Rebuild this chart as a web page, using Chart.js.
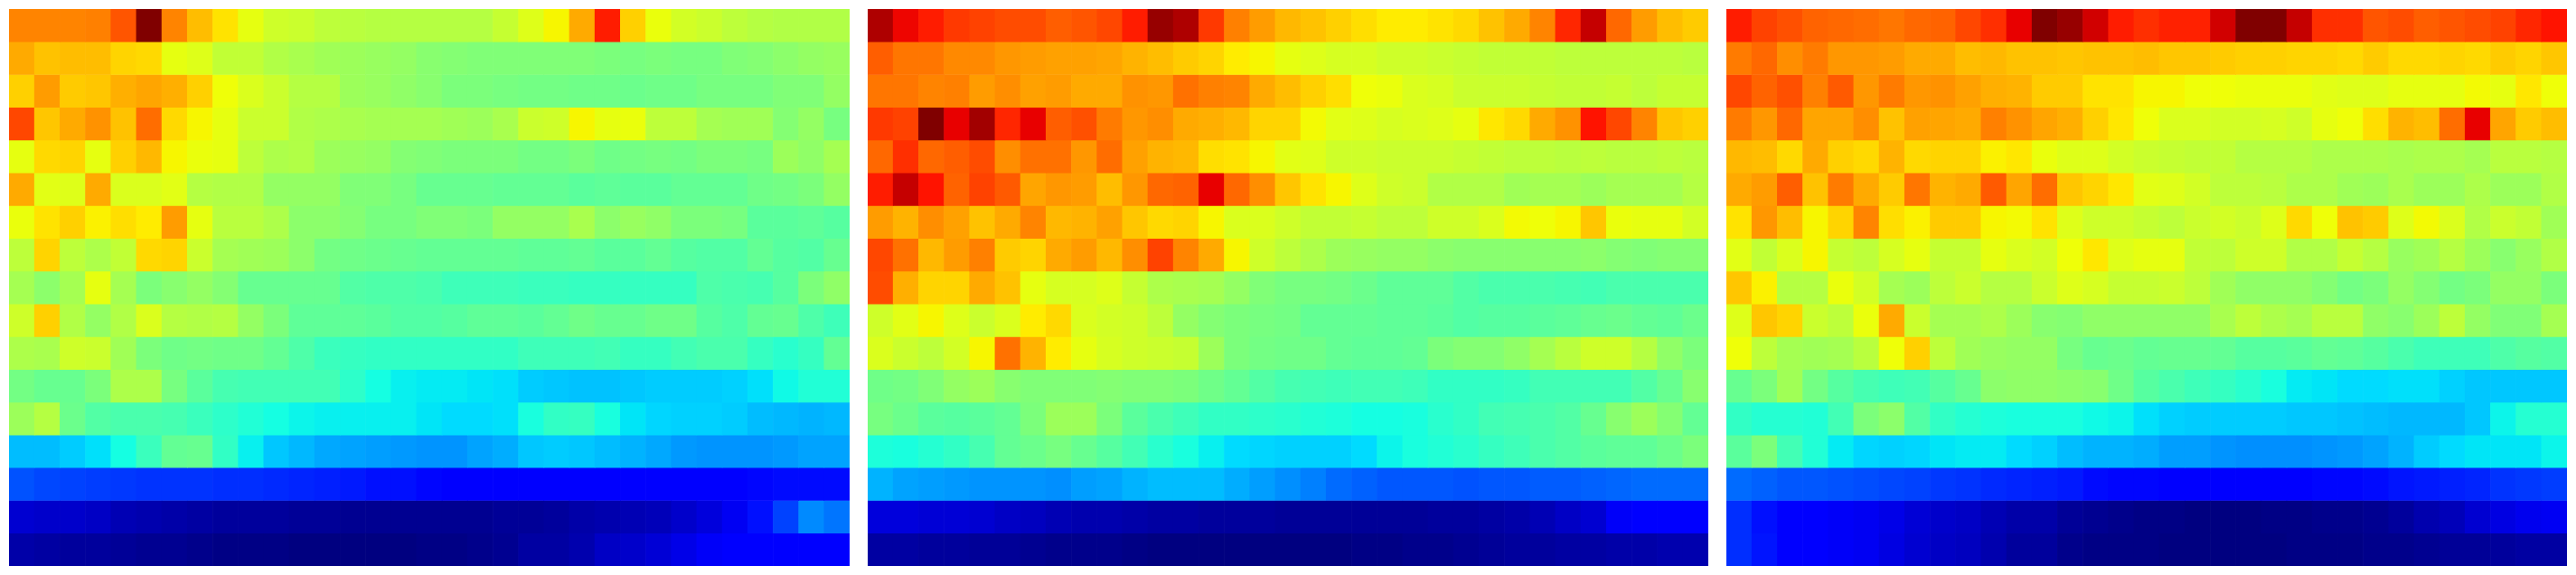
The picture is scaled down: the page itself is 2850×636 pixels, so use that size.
<!DOCTYPE html>
<html>
<head>
<meta charset="utf-8">
<title>Heatmap panels</title>
<script src="https://cdn.jsdelivr.net/npm/chart.js@4/dist/chart.umd.min.js"></script>
<style>
  html, body { margin: 0; padding: 0; background: #fff; }
  canvas { position: absolute; top: 10px; }
  #left { left: 10px; }
  #middle { left: 960px; }
  #right { left: 1910px; }
</style>
</head>
<body>
<canvas id="left" width="930" height="616"></canvas>
<canvas id="middle" width="930" height="616"></canvas>
<canvas id="right" width="930" height="616"></canvas>
<script>
// Cell values, 0-100 on the jet scale, top row first.
const leftRows = [
  [77,77,77,77.5,82,100,77,71,67,63,60,59.5,58,57.5,57,57,57,57,57,59,62,65,73,88,69,63.5,60.5,59.5,58,57,56.5,56.5,56.5],
  [73,70.5,71,71,68.5,68,63,62,58.5,58.5,56.5,55.5,54.5,54,53.5,53,51.5,51,50.5,50.5,50.5,50.5,50.5,50,49.5,50,49.5,49.5,50.5,51,52,53,53.5],
  [69,74.5,69.5,70,72.5,73.5,72.5,69,64,61.5,59.5,57,57,54,53.5,52.5,51.5,50,50,49.5,49,49,48.5,48.5,48,48.5,48.5,49.5,49.5,49.5,50.5,50.5,53],
  [83.5,70,73,75.5,70.5,79.5,68,65,63,59.5,59.5,56.5,56,55.5,55,55,55,54.5,54,55.5,59.5,60,65,63,63.5,58,58,55,54.5,54.5,51,53,49.5],
  [63,68,68.5,63,69,71.5,65,63.5,63,58,56,56.5,54,53.5,53,51,50.5,50,50,50,49,49,50,48.5,49,49.5,49,50,50,49.5,54,52.5,55],
  [73,62.5,62,73,61.5,61.5,62.5,57,56.5,56.5,53,53,53,50.5,50.5,49.5,47.5,47.5,47.5,47,47,47,46,46.5,46,46,47,47,47,48.5,49,50,53],
  [63.5,67,69,65.5,67.5,66,74.5,63,57.5,57.5,56,52,52,51,49.5,49.5,50.5,50.5,50,53,53,53,55.5,52,53.5,52.5,50,50,49.5,46,46,46.5,45.5],
  [58,68.5,58,56,58.5,68,68.5,59.5,55,54.5,54,52,49,48.5,48,47.5,47,47,47,47,46.5,46.5,47,46,46,47,45.5,45,45,47,45.5,45,47.5],
  [55,52,55,63,55,50,51.5,53,51,47.5,47.5,47.5,47.5,45,44.5,44.5,44,42.5,42.5,42.5,42,42,41.5,41.5,41.5,41.5,41.5,44.5,44,43.5,45.5,50,52.5],
  [60,69,56.5,53,56.5,61.5,57,56.5,57,53,50,46.5,46.5,46.5,46,45,45,45.5,46.5,46.5,46,47,48.5,47.5,47.5,48.5,48.5,45.5,44.5,47,47.5,44.5,42.5],
  [56,55.5,60,59.5,54.5,50,48.5,49,48.5,48.5,47,44.5,42,41.5,41,41,41,41,41,41,42.5,42.5,42.5,43,41.5,41.5,43,44,44,41.5,40,41.5,47],
  [49,47.5,47.5,50,56,56,49.5,46,43.5,43,43,43,43,40.5,37.5,36,35.5,35.5,35,34.5,32.5,32,31.5,31.5,32,32.5,32.5,32.5,33,34.5,37,39,39],
  [54,57,48,45,44,44,43.5,42,40.5,39,37.5,36.5,36,36,36,36,35,34,34,34.5,38,41,41.5,38,35,33.5,33,33,32.5,31,30.5,30,30.5],
  [31,31,32.5,34.5,37.5,42,47,47.5,41,36,32,30.5,29,28.5,28,27.5,27,27,28.5,29.5,32,32.5,32,31,30,29,27.5,27,27,27,27.5,28.5,28.5],
  [20.5,19.5,19,18.5,18,17.5,17.5,17.5,17,17,16.5,16,15.5,15,14,14,13,12,12,12,12,12,12,12,12,12,12,12,12.5,13,13.5,13.5,13.5],
  [7,6.5,6.5,6,4.5,4,3.5,3,2.5,2.5,2.5,2,2,1.5,1.5,1.5,1.5,1.5,1.5,2,2,2.5,3.5,4,4.5,5,6.5,8,10,14,19,26,24],
  [3.5,3,2.5,2.5,2,1.5,1.5,1,0.5,0.5,0.5,0,0,0,0,0,0.5,0.5,1,1.5,3,3,4,6,6.5,7.5,9,10.5,11,11.5,11,12,12]
];
const middleRows = [
  [96,90.5,88,85,84,83,83,81,82,83.5,88,98,96,85,77.5,74.5,71.5,70.5,69,67.5,66,66,67,68,70.5,73,77,87,94,80,74.5,71,69.5],
  [81,78.5,78.5,76.5,76.5,75,74.5,74,74,73.5,72,71,69.5,68.5,66,65,63,62,61,61,60,60,59.5,59,58.5,58.5,58.5,58,58,58,58,58,57.5],
  [78.5,78.5,77,77.5,74.5,76,74,74.5,73,73,75.5,75,79,77.5,77,73,71,69,67.5,64,63.5,61.5,61,59.5,59.5,59.5,59,58.5,58.5,59,58,59,59],
  [85,84,100,91,97,87,91,81,82.5,78,75,76,73,72.5,71.5,68.5,68.5,64.5,62.5,62,61,61.5,62,63,66.5,68,73,75.5,89,83.5,77,70,69],
  [80,86,80,81,83,76,79,79,75,79.5,74,72,71.5,67.5,67,65,62.5,62,60,60,59.5,59.5,59.5,59,58.5,58,58,57.5,58,57.5,57.5,58,57.5],
  [88,94,89,80.5,84,81.5,73.5,75,74.5,71,75,80,80.5,91,80,76,70,67,65,62,60,59.5,56.5,56.5,56.5,54.5,55,55,54,55,55,55,57],
  [74.5,72,76,74,70.5,73,77,71.5,72,74,70,68,68.5,65,61.5,61.5,60,58.5,58.5,59,58,58,60,60,61.5,64.5,64,65,70,63.5,63,63,60.5],
  [83.5,79,71.5,74.5,77.5,69.5,68.5,73,74.5,71.5,76,84,77,73,65,60,58,56,54,53.5,53,53,52,51.5,51.5,51.5,51.5,51.5,52,51,50.5,51,51],
  [83,72.5,68.5,68.5,73,70.5,63,61,61,62,59,56,55.5,55,53,50.5,49.5,49.5,49,48,46.5,46.5,46.5,45,44,44,44,43.5,43,44,44,44,44],
  [60,62.5,65,62,59.5,61.5,66,68,61.5,60.5,60,58,53,51,50,49.5,49,47,47,47,46.5,46.5,46,45,45.5,45.5,46,46.5,47.5,48,47,46.5,48],
  [61.5,59.5,58,60.5,65,79,72,66,63,61,60,59.5,59,54,50,49,48.5,48.5,47,46.5,46.5,47,50,51,51,52.5,55,57.5,60,60,57,52.5,50],
  [48.5,49,50.5,53,54,51.5,50.5,50.5,50.5,51,50.5,50.5,50,48.5,47,45,43.5,43,42.5,43,43,42.5,41,41,41,41.5,43,43,43,43,45,47.5,51.5],
  [49.5,48,46,45.5,46,47,50,54,54,50,46,44,42.5,41,41,40.5,40,39,38.5,37.5,37.5,38,40,41,43,43.5,44,45,47.5,51.5,54,51,47],
  [38.5,38,39.5,41,43.5,47,48,49.5,47.5,45.5,43,40,38,36,34,33.5,33,33,33,34,36.5,38,39,40,41.5,42.5,44,45,46,46.5,46.5,48,50],
  [30,28.5,28,27.5,27,27,27,26.5,28,28.5,30,31,31,31,29.5,28,26.5,25,23,22,21,21,21,20.5,21,21,21.5,21.5,22,22.5,23,23,23],
  [8,8,7.5,7.5,7,6,5.5,4.5,4,4,3.5,3,3,2.5,2.5,2.5,2,2,2,2,2,2,2.5,2.5,3,3.5,4.5,6,7,10.5,11,12,12],
  [3,3,2.5,2.5,2,2,1.5,1,1,1,0.5,0,0,0,0,0,0,0,0,0.5,0.5,1,1,1.5,2,2.5,2.5,3,3,3.5,3.5,4,4]
];
const rightRows = [
  [88,84,82.5,80.5,80,79.5,78.5,80,80.5,83.5,86,91,100,98,93,88,86,87.5,87.5,93,100,100,94,86,86,82,83,81,82,83,84,87,89],
  [78,80,76,78,75,75,74.5,73,73,71,71.5,70.5,70.5,70,70.5,70.5,71,70,70,69.5,69,69,68.5,68.5,68,69.5,68,68,68.5,68,69.5,68.5,70],
  [83.5,80.5,82.5,77.5,81.5,75,78,75,75.5,74,72.5,72,69.5,69.5,67,67,65,65,64,64,63.5,63.5,63.5,62.5,62,62,63,63,63,64.5,63,66.5,64],
  [78,75,80,73.5,73.5,76,70.5,74,73.5,73,77.5,75.5,73.5,72.5,69,66.5,64,61.5,61.5,60.5,60.5,61,60,63,64,67.5,72,71,79.5,91,73.5,69.5,71],
  [71.5,71,68,73,69,68,72,68,68.5,68.5,65.5,66.5,63.5,62,62,60.5,59.5,59,58.5,58.5,57,57,57,56,56,56,55.5,56,56,55,57.5,57.5,57],
  [73,74.5,81,70.5,78,73,69.5,78.5,72,73,81.5,73.5,79.5,70,68.5,66.5,62.5,62,60.5,58,58,57.5,56,56,54.5,54,55.5,54,54,56,54,54,56.5],
  [67,75,71,65,68.5,77,67.5,65.5,69.5,69.5,65,64.5,67,62,60,60,59,58,59.5,60.5,59.5,62,68,64,70.5,69.5,62,64.5,61.5,56.5,59.5,58.5,54.5],
  [62.5,58.5,61.5,65,59,58,61,63,59,59,63,61.5,60.5,64,66.5,62,63,63,58.5,58,60,60,56.5,56.5,59,57,53.5,54.5,57,54,51.5,53.5,56.5],
  [70,65.5,57,57,63.5,60.5,55,54,58,59.5,57,57,59.5,62,61,59,59,59.5,58,54.5,52.5,52.5,52.5,51,49,50,53,51,49,50,53,53,50],
  [62,70,68.5,59.5,58,63.5,73,59.5,55,55,56,54,51.5,51,52.5,52.5,52.5,52.5,52.5,55.5,58,56,55,57.5,57.5,52.5,51.5,54,58,53,50.5,50.5,55],
  [64,58,55,54.5,55,57.5,64,69,58,54.5,53.5,53,53,49.5,47.5,48,47,47.5,47.5,47,45.5,45.5,46,47,46.5,45.5,44,42.5,42.5,42.5,44.5,45.5,45],
  [47.5,50,54.5,49,45.5,43.5,42.5,43,45.5,47.5,52,52.5,52.5,52,51.5,48.5,45.5,44,42.5,41.5,40,38,35.5,35,34,34,34.5,34.5,33,32,32,32,32],
  [41,39.5,39.5,39,43,50,52,45,41,39.5,38.5,38,38,38,37,36.5,34.5,33,32.5,32.5,32.5,32.5,32,32,31.5,31,30.5,30.5,30.5,32,36.5,39.5,39.5],
  [46,50,43,39,35.5,33.5,33,33.5,35,35.5,35.5,34,33,31,30,30,29.5,28,28,27,26.5,26.5,26.5,27,27.5,28.5,30,32.5,34,35,35,35,36.5],
  [23,22,21,21,20.5,20,19.5,19,18,17.5,16.5,16,15.5,15,13.5,13,13,12.5,12.5,12,12,12,12.5,13,13,13.5,14.5,15,15.5,16,17.5,18,18.5],
  [17,14,11.5,11,10.5,10,9,7.5,6.5,6,4.5,3.5,3.5,2,1.5,1,0.5,0.5,0,0,0,0.5,0.5,1,1,1.5,2.5,4,5,7,8.5,9.5,10],
  [17,14.5,12,11,10.5,10,8.5,7,6,5.5,4,2.5,2.5,1,0.5,0.5,0.5,0,0,0,0,0,0.5,0.5,0.5,1,1,1.5,2,2,2.5,3,3]
];
const columns = leftRows[0].map((_, i) => i + 1);

// Piecewise-linear jet colormap, v in 0..1.
function channel(v, stops) {
  for (let i = 1; i < stops.length; i++) {
    if (v <= stops[i][0]) {
      const a = stops[i - 1], b = stops[i];
      return a[1] + (b[1] - a[1]) * (v - a[0]) / (b[0] - a[0]);
    }
  }
  return stops[stops.length - 1][1];
}
function jet(pct) {
  const v = pct / 100;
  const r = channel(v, [[0, 0], [0.35, 0], [0.66, 1], [0.89, 1], [1, 0.5]]);
  const g = channel(v, [[0, 0], [0.125, 0], [0.375, 1], [0.64, 1], [0.91, 0], [1, 0]]);
  const b = channel(v, [[0, 0.5], [0.11, 1], [0.34, 1], [0.65, 0], [1, 0]]);
  return 'rgb(' + Math.round(r * 255) + ',' + Math.round(g * 255) + ',' + Math.round(b * 255) + ')';
}

// One stacked bar per column, one dataset per row, every cell one unit high.
function renderHeatmap(id, rows) {
  new Chart(document.getElementById(id), {
    type: 'bar',
    data: {
      labels: columns,
      datasets: rows.map((row) => ({
        data: row.map(() => 1),
        backgroundColor: row.map(jet),
        borderWidth: 0,
        barPercentage: 1,
        categoryPercentage: 1,
      })),
    },
    options: {
      responsive: false,
      animation: false,
      layout: { padding: 0 },
      plugins: { legend: { display: false }, tooltip: { enabled: false } },
      scales: {
        x: { stacked: true, display: false },
        y: { stacked: true, display: false, reverse: true, min: 0, max: rows.length },
      },
    },
  });
}

renderHeatmap('left', leftRows);
renderHeatmap('middle', middleRows);
renderHeatmap('right', rightRows);
</script>
</body>
</html>
